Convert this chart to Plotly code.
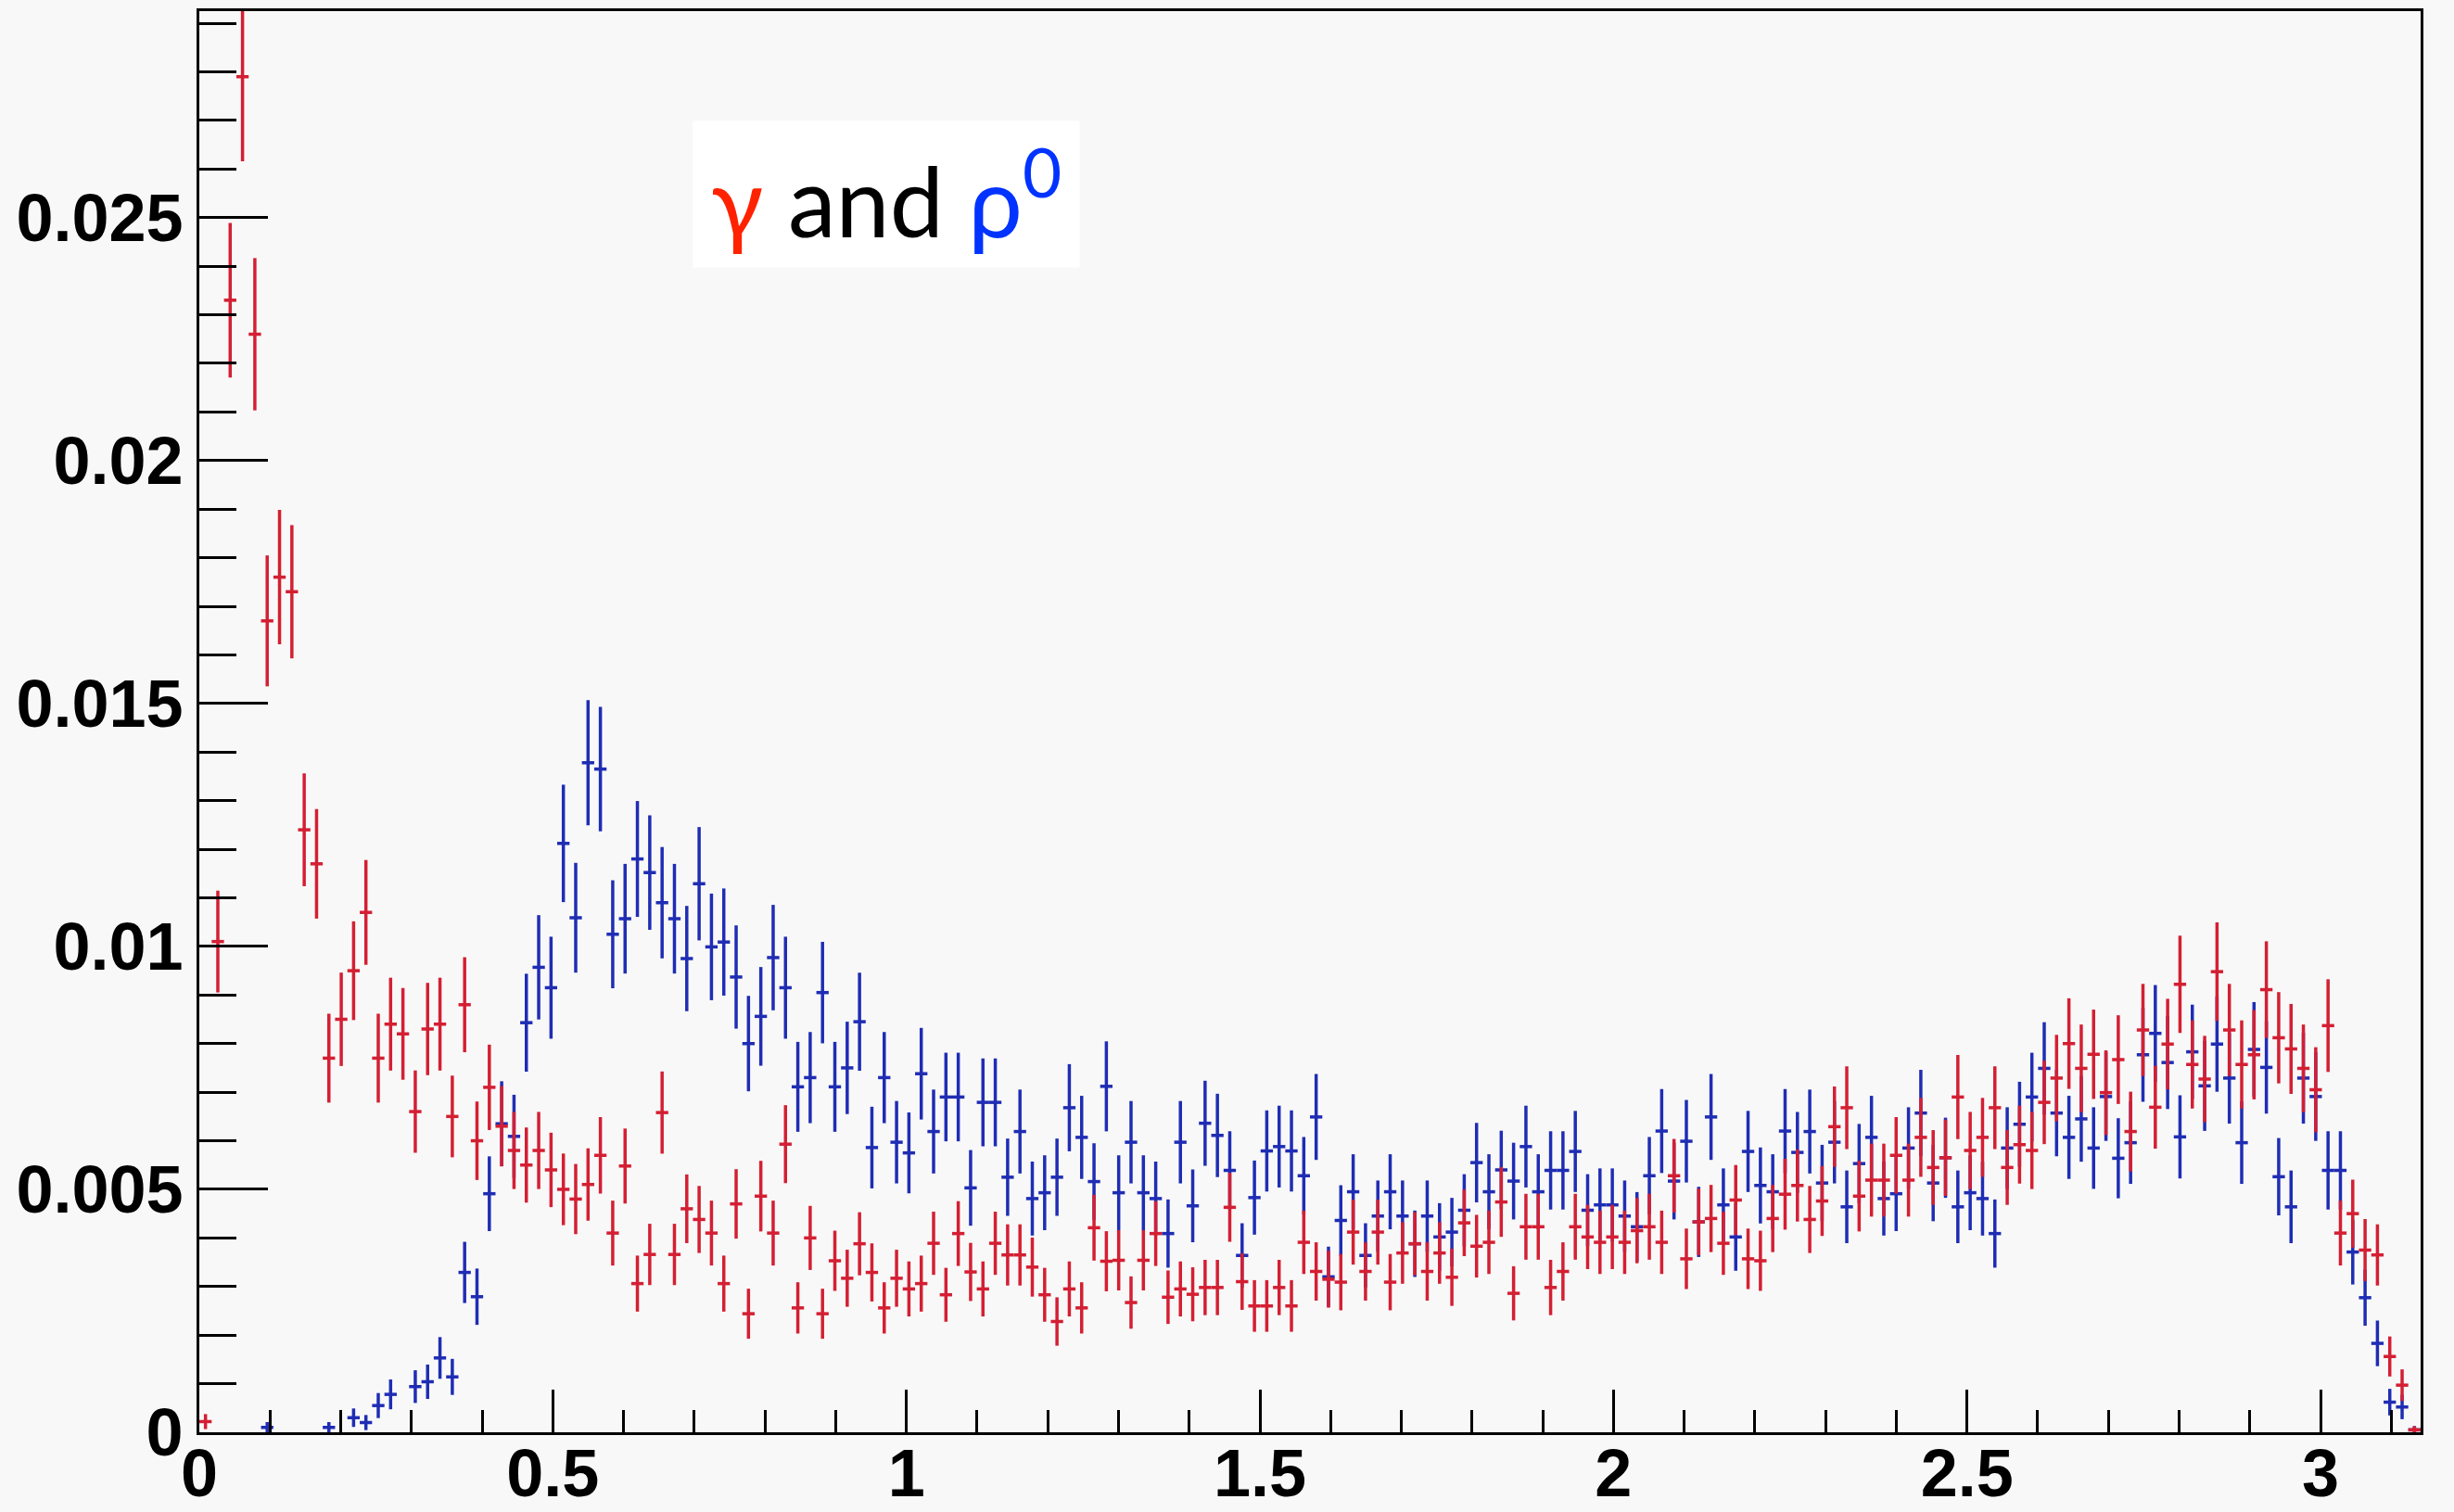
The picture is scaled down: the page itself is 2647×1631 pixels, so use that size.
import numpy as np
import plotly.graph_objects as go

# ---- data (normalised counts per 1-degree bin, 180 bins on [0, pi]) ----
n_bins = 180
x_min, x_max = 0.0, np.pi

gamma_vals = [
    0.00022, 0.0101, 0.0233, 0.0279, 0.0226, 0.0167, 0.0176, 0.0173, 0.0124, 0.0117,
    0.0077, 0.0085, 0.0095, 0.0107, 0.0077, 0.0084, 0.0082, 0.0066, 0.0083, 0.0084,
    0.0065, 0.0088, 0.0060, 0.0071, 0.0063, 0.0058, 0.0055, 0.0058, 0.0054, 0.0050,
    0.0048, 0.0051, 0.0057, 0.0041, 0.00548, 0.00306, 0.00366, 0.00658, 0.00366, 0.0046,
    0.00438, 0.0041, 0.00306, 0.0047, 0.00244, 0.00486, 0.0041, 0.00593, 0.00256, 0.0040,
    0.00244, 0.00353, 0.00317, 0.00388, 0.00329, 0.00256, 0.00317, 0.00295, 0.00306, 0.00389,
    0.00283, 0.00409, 0.0033, 0.00295, 0.00389, 0.00365, 0.00365, 0.0034, 0.00283, 0.00228,
    0.00295, 0.00256, 0.00421, 0.00352, 0.00354, 0.00267, 0.00354, 0.00409, 0.00278, 0.00295,
    0.00284, 0.00298, 0.00298, 0.00463, 0.0031, 0.0026, 0.0026, 0.00298, 0.0026, 0.00391,
    0.00331, 0.00315, 0.00309, 0.00412, 0.00331, 0.00412, 0.00309, 0.00369, 0.00388, 0.00331,
    0.00369, 0.00319, 0.00431, 0.00383, 0.00391, 0.00474, 0.00286, 0.00423, 0.00423, 0.00298,
    0.00331, 0.00423, 0.00402, 0.00391, 0.00402, 0.00391, 0.00415, 0.00423, 0.00391, 0.00528,
    0.00357, 0.00433, 0.0044, 0.00389, 0.00478, 0.00357, 0.00353, 0.0044, 0.0049, 0.00508,
    0.00438, 0.00476, 0.00629, 0.00668, 0.00486, 0.00519, 0.00519, 0.0057, 0.00519, 0.00607,
    0.00545, 0.00565, 0.0069, 0.0058, 0.00607, 0.00668, 0.00545, 0.00592, 0.0058, 0.00679,
    0.00729, 0.0080, 0.00749, 0.00778, 0.00699, 0.00767, 0.00619, 0.00828, 0.00669, 0.00799,
    0.00922, 0.00757, 0.00727, 0.00948, 0.00828, 0.00757, 0.00777, 0.00911, 0.00812, 0.00789,
    0.00749, 0.00705, 0.00837, 0.0041, 0.0045, 0.00375, 0.00365, 0.00156, 0.00097, 0.00005,
]

rho_vals = [
    None, None, None, None, None, 0.0001, None, None, None, None,
    0.0001, None, 0.0003, 0.0002, 0.00055, 0.00078, None, 0.00094, 0.00104, 0.00153,
    0.00114, 0.00329, 0.00279, 0.00491, 0.00635, 0.00609, 0.00843, 0.00957, 0.00915, 0.01212,
    0.01059, 0.01378, 0.01365, 0.01025, 0.01057, 0.0118, 0.01152, 0.0109, 0.01057, 0.00975,
    0.01129, 0.00999, 0.01009, 0.00937, 0.0080, 0.00856, 0.00977, 0.00915, 0.00711, 0.0073,
    0.00905, 0.00711, 0.0075, 0.00845, 0.00586, 0.0073, 0.00597, 0.00575, 0.00738, 0.00619,
    0.0069, 0.0069, 0.00503, 0.00679, 0.00679, 0.00525, 0.00619, 0.00481, 0.00493, 0.00525,
    0.00668, 0.00607, 0.00516, 0.00712, 0.00493, 0.00597, 0.00493, 0.00481, 0.00409, 0.00597,
    0.00466, 0.00636, 0.00611, 0.00539, 0.00364, 0.00483, 0.00579, 0.00588, 0.00579, 0.00528,
    0.00649, 0.0032, 0.00436, 0.00495, 0.00364, 0.00445, 0.00495, 0.00445, 0.00388, 0.00445,
    0.00402, 0.00412, 0.00457, 0.00555, 0.00495, 0.0054, 0.00517, 0.00588, 0.00495, 0.00539,
    0.00539, 0.00578, 0.00457, 0.00468, 0.00468, 0.00445, 0.00423, 0.00528, 0.0062, 0.00517,
    0.00599, 0.00433, 0.00649, 0.00468, 0.00402, 0.00578, 0.00508, 0.00495, 0.0062, 0.00576,
    0.00619, 0.00513, 0.00597, 0.00464, 0.00553, 0.00607, 0.00481, 0.00491, 0.00585, 0.00657,
    0.00513, 0.00565, 0.00464, 0.00493, 0.00481, 0.00409, 0.00585, 0.00634, 0.0069, 0.00749,
    0.00657, 0.00607, 0.00645, 0.00585, 0.00691, 0.00564, 0.00596, 0.00777, 0.00821, 0.00761,
    0.00608, 0.00783, 0.00713, 0.00799, 0.00729, 0.00596, 0.00788, 0.00751, 0.00526, 0.00464,
    0.00729, 0.00691, 0.00539, 0.00539, 0.00371, 0.00277, 0.00183, 0.00062, 0.00052, 0.00005,
]

# effective number of entries of each normalised histogram (read from the error-bar lengths)
gamma_entries = 9200
rho_entries = 8300

x_tick_vals = [0, 0.5, 1, 1.5, 2, 2.5, 3]
x_tick_text = ["0", "0.5", "1", "1.5", "2", "2.5", "3"]
y_tick_vals = [0, 0.005, 0.01, 0.015, 0.02, 0.025]
y_tick_text = ["0", "0.005", "0.01", "0.015", "0.02", "0.025"]

# ---- derived quantities ----
bin_w = (x_max - x_min) / n_bins
centers = x_min + (np.arange(n_bins) + 0.5) * bin_w


def stat_err(vals, entries):
    return [None if v is None else float(np.sqrt(v / entries)) for v in vals]


RED = "#d41f33"
BLUE = "#1f2db4"
BG = "#f8f8f8"


def hist_trace(vals, entries, color, name):
    return go.Scatter(
        x=centers, y=vals, mode="markers", name=name,
        marker=dict(size=2, color=color),
        error_y=dict(type="data", array=stat_err(vals, entries), visible=True,
                     color=color, thickness=3.5, width=0),
        error_x=dict(type="constant", value=bin_w / 2, visible=True,
                     color=color, thickness=3.5, width=0),
        showlegend=False, hoverinfo="x+y",
    )


fig = go.Figure()
fig.add_trace(hist_trace(rho_vals, rho_entries, BLUE, "rho0"))
fig.add_trace(hist_trace(gamma_vals, gamma_entries, RED, "gamma"))

tick_font = dict(family="Liberation Sans, Arial, Helvetica, sans-serif",
                 size=72, color="black", weight="bold")

fig.update_layout(
    width=2647, height=1631,
    margin=dict(l=215, r=36, t=12, b=86, pad=0),
    paper_bgcolor=BG, plot_bgcolor=BG,
    xaxis=dict(
        range=[x_min, x_max], showgrid=False, zeroline=False, automargin=False,
        showline=True, linecolor="black", linewidth=3, mirror=True,
        ticks="inside", ticklen=46, tickwidth=3, tickcolor="black",
        tickvals=x_tick_vals, ticktext=x_tick_text, tickfont=tick_font,
        ticklabelstandoff=-20,
        minor=dict(dtick=0.1, tick0=0, ticks="inside", ticklen=24,
                   tickwidth=3, tickcolor="black"),
    ),
    yaxis=dict(
        range=[0, 0.02925], showgrid=False, zeroline=False, automargin=False,
        showline=True, linecolor="black", linewidth=3, mirror=True,
        ticks="inside", ticklen=74, tickwidth=3, tickcolor="black",
        tickvals=y_tick_vals, ticktext=y_tick_text, tickfont=tick_font,
        minor=dict(dtick=0.001, tick0=0, ticks="inside", ticklen=40,
                   tickwidth=3, tickcolor="black"),
    ),
)

fig.add_annotation(
    xref="paper", yref="paper", x=0.3093, y=0.8712,
    xanchor="center", yanchor="middle",
    text=('<span style="color:#ff2200">γ</span> and '
          '<span style="color:#0033ff">ρ<sup>0</sup></span>'),
    showarrow=False, bgcolor="white", borderpad=8, width=400, height=141,
    font=dict(family="Lato, Open Sans, sans-serif", size=104, color="black"),
)

fig.write_html("out.html")
